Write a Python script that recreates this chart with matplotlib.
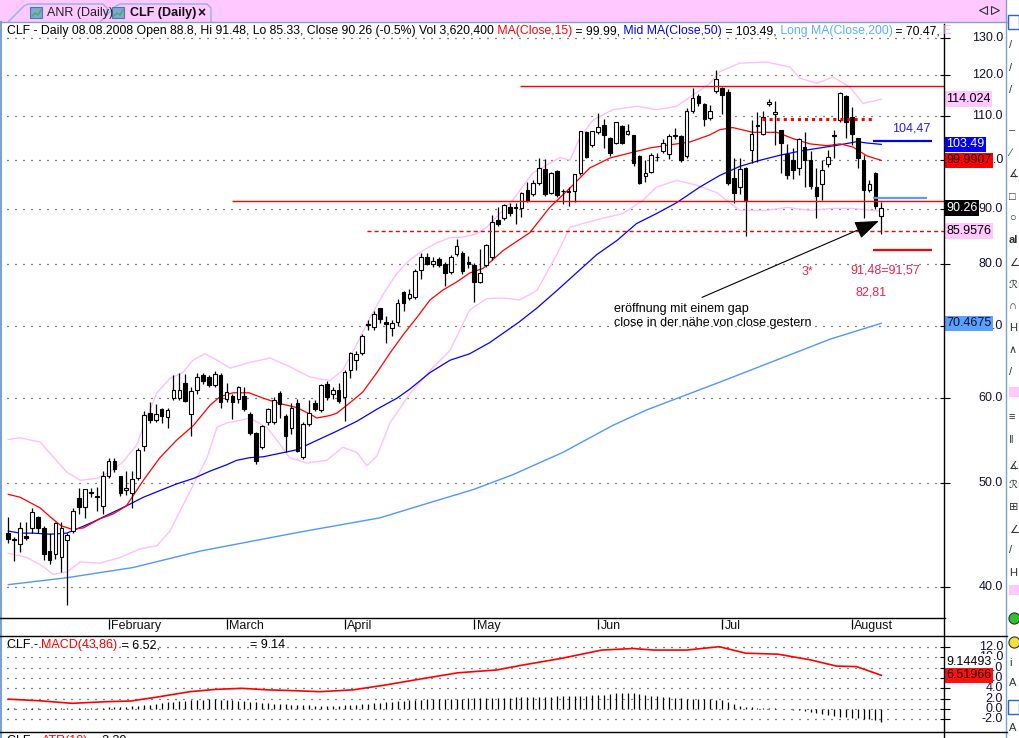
import numpy as np
import matplotlib
matplotlib.use('Agg')
import matplotlib.pyplot as plt
import matplotlib.transforms as mtransforms
from matplotlib.patches import Rectangle, Polygon
from matplotlib.lines import Line2D
from matplotlib.ticker import NullLocator

plt.rcParams['font.family'] = ['Liberation Sans', 'DejaVu Sans']
plt.rcParams['lines.scale_dashes'] = False

# CLF daily, 2008 (bar index 0 = first visible January bar)
opens = [44.9, 44.3, 43.9, 44.6, 45.4, 46.5, 45.4, 43.2, 42.9, 42.7,
         44.2, 45.1, 48.4, 47.5, 48.9, 48.6, 47.6, 50.8, 52.4, 50.7,
         49.3, 48.9, 50.6, 54.1, 58.1, 57.2, 58.6, 57.6, 60.0, 60.0,
         62.0, 58.0, 61.0, 63.1, 62.8, 61.7, 63.1, 59.9, 60.3, 59.9,
         60.2, 58.0, 55.7, 54.0, 57.0, 57.0, 60.6, 57.7, 56.3, 59.3,
         52.9, 56.8, 59.3, 58.5, 61.9, 60.5, 61.0, 60.2, 63.7, 65.1,
         66.1, 70.2, 69.9, 72.8, 70.6, 69.7, 70.6, 75.4, 74.4, 74.5,
         79.1, 81.3, 80.1, 80.8, 80.1, 78.6, 81.7, 82.0, 80.3, 79.8,
         77.0, 79.8, 81.2, 87.9, 88.3, 90.4, 90.2, 90.2, 93.8, 93.0,
         95.2, 98.2, 93.2, 97.8, 93.6, 93.6, 93.6, 97.4, 106.2, 103.3,
         106.2, 107.9, 105.0, 103.9, 107.7, 105.9, 105.5, 100.9, 96.6, 97.6,
         100.7, 102.0, 101.4, 105.4, 105.3, 100.9, 111.2, 114.7, 112.8, 109.5,
         116.0, 116.7, 115.7, 96.2, 94.4, 98.4, 102.2, 107.8, 105.9, 112.8,
         110.4, 106.6, 101.3, 100.0, 98.4, 102.9, 100.0, 94.4, 95.0, 99.2,
         105.6, 109.0, 114.7, 109.8, 104.8, 100.0, 93.8, 97.4, 88.8]
highs = [46.5, 44.5, 46.0, 46.0, 47.4, 46.6, 45.6, 44.9, 46.0, 46.0,
         44.9, 47.4, 49.5, 49.4, 49.5, 49.6, 51.3, 52.8, 52.8, 50.8,
         51.3, 51.3, 53.9, 58.4, 59.5, 59.2, 58.8, 58.8, 63.0, 63.3,
         63.2, 61.4, 63.4, 63.3, 63.0, 63.6, 63.3, 62.0, 60.5, 61.6,
         61.5, 58.2, 55.8, 56.6, 58.8, 60.2, 60.9, 58.0, 59.4, 59.9,
         57.0, 59.8, 59.8, 61.9, 62.3, 61.4, 62.0, 63.7, 66.2, 66.4,
         68.9, 71.0, 72.4, 72.9, 71.6, 71.0, 74.2, 75.5, 75.9, 79.2,
         82.0, 81.9, 81.3, 81.3, 80.3, 81.6, 84.4, 82.3, 81.5, 80.2,
         82.6, 83.6, 89.0, 90.4, 91.0, 91.2, 91.3, 93.5, 95.4, 95.9,
         100.4, 100.2, 97.6, 98.0, 94.0, 94.5, 97.2, 106.6, 106.4, 106.6,
         110.8, 109.4, 105.2, 108.6, 108.0, 108.2, 105.7, 101.2, 100.0, 101.5,
         101.6, 104.6, 105.9, 107.1, 105.5, 111.9, 116.9, 115.2, 113.0, 112.6,
         121.3, 117.0, 116.5, 100.6, 100.6, 98.6, 109.0, 110.9, 111.2, 114.0,
         113.7, 106.8, 103.5, 102.6, 105.0, 106.2, 102.0, 98.4, 100.0, 102.2,
         106.7, 115.8, 115.0, 112.2, 105.0, 101.1, 95.8, 97.5, 91.48]
lows = [44.0, 42.3, 43.1, 44.2, 44.9, 44.9, 42.4, 42.0, 42.5, 41.3,
        38.5, 44.9, 46.8, 46.4, 48.5, 47.1, 46.8, 50.6, 51.2, 48.6,
        48.7, 47.4, 50.3, 53.6, 56.9, 57.0, 56.9, 56.3, 59.8, 59.8,
        59.5, 55.3, 60.6, 61.8, 61.4, 61.5, 58.8, 59.5, 57.4, 59.4,
        58.4, 55.4, 52.1, 53.8, 56.6, 56.8, 57.5, 53.4, 55.6, 53.4,
        52.7, 56.5, 58.4, 58.3, 59.8, 59.9, 59.4, 57.1, 62.6, 63.8,
        65.9, 69.4, 69.4, 70.5, 67.6, 68.5, 70.0, 72.3, 74.1, 74.3,
        77.5, 79.8, 79.6, 79.5, 76.3, 78.3, 81.4, 78.4, 79.3, 73.8,
        76.8, 79.5, 80.8, 86.9, 88.0, 88.8, 87.2, 88.6, 91.5, 92.6,
        94.9, 92.7, 93.0, 92.5, 91.0, 90.6, 91.5, 97.0, 100.5, 103.0,
        105.8, 102.7, 101.0, 103.5, 103.5, 105.5, 98.8, 95.0, 95.4, 97.3,
        99.8, 101.6, 100.3, 104.8, 99.7, 100.5, 110.8, 112.5, 107.6, 109.0,
        115.6, 110.5, 94.8, 91.2, 93.0, 85.0, 99.4, 99.6, 105.5, 112.5,
        103.3, 97.4, 96.0, 96.0, 97.0, 94.4, 94.0, 88.3, 91.8, 98.5,
        100.6, 108.5, 105.0, 103.4, 98.3, 88.3, 93.5, 90.0, 85.33]
closes = [44.3, 44.2, 45.4, 44.4, 47.0, 45.4, 42.9, 42.4, 45.9, 45.4,
          44.7, 47.1, 47.5, 49.3, 49.0, 48.5, 50.7, 52.4, 51.5, 48.9,
          49.4, 50.4, 53.7, 57.8, 57.2, 58.0, 57.7, 58.5, 61.0, 61.0,
          59.6, 60.9, 62.8, 62.2, 61.7, 63.2, 59.5, 60.8, 59.5, 61.4,
          58.6, 55.7, 52.4, 56.5, 58.6, 59.7, 59.3, 55.3, 58.7, 53.6,
          56.8, 58.1, 58.6, 61.7, 60.2, 61.0, 59.6, 63.5, 66.1, 66.0,
          68.5, 70.4, 71.8, 71.1, 70.4, 70.5, 73.6, 73.6, 75.1, 78.8,
          81.3, 80.1, 80.5, 79.8, 78.5, 81.3, 83.1, 78.8, 80.1, 77.0,
          78.5, 83.3, 87.5, 87.2, 90.8, 89.4, 90.4, 93.2, 91.8, 95.2,
          98.4, 93.0, 97.4, 92.8, 93.7, 93.5, 97.0, 106.4, 100.7, 106.4,
          107.4, 105.5, 101.5, 108.5, 103.9, 106.4, 99.4, 95.2, 97.2, 101.2,
          100.8, 103.7, 105.3, 105.6, 100.0, 111.2, 114.2, 113.0, 109.4, 111.2,
          119.0, 115.0, 95.2, 93.2, 98.1, 91.8, 105.7, 107.6, 109.8, 113.4,
          110.9, 103.7, 96.8, 97.9, 104.6, 100.0, 94.6, 92.6, 97.9, 100.6,
          105.3, 115.5, 108.5, 105.9, 100.6, 93.8, 95.0, 90.7, 90.26]

# moving averages / bands at sample bars
ma15_x = [0, 2, 5.4, 7.1, 9, 10.7, 12.7, 15.5, 17.8, 20, 22.9, 25.7, 28.5, 31.4, 34.2, 35.9,
          38.1, 40.8, 43.2, 46.1, 48.9, 51.1, 52.3, 54.5, 55.7, 57.9, 60.1, 62.5, 64.7, 66.9,
          69.3, 71.5, 73.7, 76, 78.2, 80.5, 83.9, 88.4, 91.8, 95.2, 98.6, 102, 105.4, 108.8,
          112.2, 115.5, 118.9, 120.6, 122.8, 126.2, 130.3, 133, 135.9, 138.8, 141, 143.2, 145.5, 148]
ma15_v = [48.8, 48.5, 47.4, 46.5, 45.6, 45.3, 45.4, 46.3, 46.8, 47.6, 50.3, 52.8, 54.8, 56.6, 59.1, 60.2,
          60.7, 60.7, 60.0, 59.3, 58.8, 58.0, 57.5, 57.8, 58.1, 59.4, 60.8, 63.4, 66.1, 68.7,
          71.4, 74.1, 75.7, 77.0, 78.5, 79.3, 82.4, 85.6, 90.4, 94.2, 98.4, 100.5, 101.6, 102.7,
          103.4, 104.0, 105.6, 106.8, 107.3, 106.2, 106.2, 104.8, 103.6, 103.2, 103.6, 102.9, 101.0, 99.99]
ma50_x = [0, 2, 4.2, 7.1, 9.9, 11.6, 14.4, 17.2, 20, 22.9, 25.7, 28.5, 31.4, 34.2, 37, 38.7, 40.9,
          43.2, 48.9, 52.3, 55.7, 59.1, 62.5, 65.9, 68.1, 71.5, 74.9, 78.2, 81.6, 86.5, 89.6, 93,
          96.4, 99.8, 103.2, 106.5, 109.9, 113.3, 117.2, 120.6, 124, 127.4, 130.8, 134.2, 137.6,
          141, 143.9, 145.5, 148]
ma50_v = [45.1, 44.9, 44.9, 44.8, 44.9, 45.3, 46.0, 46.8, 47.6, 48.5, 49.2, 49.9, 50.5, 51.3, 52.0, 52.5, 52.8,
          52.9, 53.7, 54.8, 55.9, 57.1, 58.6, 60.0, 61.2, 63.4, 65.1, 66.0, 67.6, 70.6, 72.8, 75.6,
          78.6, 81.7, 84.2, 87.3, 89.2, 91.3, 94.4, 96.8, 98.7, 100.0, 101.1, 102.0, 102.7,
          103.4, 104.1, 103.8, 103.49]
ma200_x = [0, 9.9, 21.1, 32.5, 41, 49.4, 63, 71.5, 78.8, 85.5, 94, 102.5, 108.2, 113.8, 120.6, 130.8, 139.3, 148]
ma200_v = [40.2, 40.8, 41.7, 43.2, 44.1, 45.0, 46.4, 47.95, 49.3, 50.9, 53.4, 56.6, 58.5, 60.1, 62.1, 65.3, 68.1, 70.47]
bb_up_x = [0, 2, 5.4, 7.6, 9.9, 12.2, 15, 17.2, 19.4, 21.8, 23.5, 25.2, 27.4, 29.6, 31.3, 33.3, 35.4,
           37.6, 41, 44.4, 47.7, 51.1, 54.5, 56.7, 59.1, 61.3, 63.5, 65.9, 68.1, 70.3, 72.7, 74.9,
           77.1, 79.4, 81.1, 85.5, 88.9, 93.5, 95.2, 96.9, 99.1, 102.5, 106.6, 109.9, 113.3, 116.7,
           118.9, 120.6, 124, 128.6, 132.5, 134.2, 137.1, 139.8, 142.7, 144.9, 148]
bb_up_v = [54.9, 55.1, 54.6, 52.9, 51.2, 50.3, 50.5, 51.2, 52.3, 54.3, 57.6, 60.7, 62.6, 63.4, 65.1, 66.0, 65.1,
           64.0, 64.8, 65.4, 64.2, 62.8, 62.3, 63.7, 67.4, 71.3, 74.9, 78.5, 80.8, 82.4, 83.8, 84.7,
           84.8, 85.4, 86.6, 91.8, 97.3, 100.6, 100.0, 105.0, 109.0, 111.5, 112.3, 111.5, 112.3, 115.7,
           117.9, 121.0, 123.2, 123.5, 122.2, 119.3, 118.0, 119.6, 117.0, 113.0, 114.02]
bb_lo_x = [0, 3.2, 5.9, 7.6, 9.9, 12.2, 15.5, 18.9, 22.3, 25.2, 27.4, 30.3, 33.7, 35.4, 37.1, 39.3, 41,
           43.9, 46.1, 47.7, 50.6, 54, 56.7, 59.1, 60.8, 62.5, 64.7, 68.1, 71.5, 74.9, 78.2, 81.1,
           83.9, 86.7, 89.6, 93, 95.2, 97.4, 100.8, 104.2, 107.6, 109.9, 113.3, 116.7, 120.1, 124,
           128.6, 132, 135.9, 139.8, 143.2, 148]
bb_lo_v = [43.0, 42.6, 41.8, 41.1, 41.3, 42.2, 42.1, 42.6, 43.4, 43.7, 45.1, 48.5, 52.8, 56.4, 56.9, 57.2, 57.5,
           56.3, 54.3, 52.8, 52.2, 52.5, 54.0, 53.4, 51.9, 53.0, 56.9, 60.6, 63.7, 66.5, 72.5, 74.3,
           74.4, 74.1, 75.6, 81.7, 86.6, 87.3, 88.3, 89.2, 91.8, 94.4, 95.8, 94.8, 93.3, 89.8,
           89.8, 90.4, 89.8, 90.2, 90.2, 89.6]

# MACD(43,86)
macd_x = [0, 5.2, 10.8, 16.4, 20.8, 25.2, 30.8, 35.2, 39.6, 44, 48.4, 52.8, 58.4, 64, 69.6, 76.2,
          82.8, 87.2, 93.8, 100.6, 106, 109.4, 115, 120.5, 125, 130.5, 136, 140.4, 143.8, 148]
macd_v = [1.9, 1.6, 1.1, 1.4, 1.55, 2.3, 3.35, 3.8, 4.0, 3.7, 3.55, 3.35, 3.7, 4.65, 5.75, 7.0,
          7.55, 8.5, 9.8, 11.4, 11.7, 11.4, 11.4, 12.05, 10.8, 10.6, 9.5, 8.3, 8.2, 6.52]
macd_hist = [0.1, 0.1, 0.05, 0.1, 0.15, 0.1, 0.05, 0.1, 0.1, 0.15, 0.1, 0.05, 0.1, 0.15, 0.2, 0.2,
             0.25, 0.3, 0.35, 0.4, 0.45, 0.5, 0.6,
             0.7, 0.85, 1.0, 1.15, 1.3, 1.4, 1.5, 1.6,
             1.7, 1.75, 1.8, 1.85, 1.85, 1.8, 1.75, 1.7, 1.6, 1.5,
             1.4, 1.3, 1.2, 1.1, 1.0, 0.95, 0.9, 0.85, 0.8, 0.75,
             0.7, 0.65, 0.6, 0.6, 0.6, 0.65, 0.7, 0.75,
             0.8, 0.9, 1.0, 1.1, 1.2, 1.3, 1.4, 1.5, 1.6, 1.7, 1.75, 1.8,
             1.85, 1.9, 1.9, 1.95, 2.0, 2.0, 2.0, 2.05, 2.1, 2.1, 2.1, 2.15, 2.2, 2.2, 2.2, 2.25, 2.3, 2.3, 2.3, 2.35,
             2.4, 2.4, 2.45, 2.5, 2.5, 2.55, 2.6, 2.6, 2.7, 2.75,
             2.8, 2.9, 3.0, 3.1, 3.1, 3.0, 2.9, 2.8,
             2.6, 2.5, 2.4, 2.3, 2.2, 2.1, 2.0, 2.0, 1.9, 1.9, 1.85, 1.8, 1.8,
             1.4, 1.0, 0.6, 0.4, 0.3,
             0.2, 0.15, 0.1, 0.1, 0.05, 0.0, -0.1,
             -0.2, -0.4, -0.6, -0.8, -1.0, -1.2, -1.4,
             -1.5, -1.6, -1.7, -1.8, -1.9, -2.0, -2.2, -2.5]

months = ['February', 'March', 'April', 'May', 'Jun', 'Jul', 'August']
month_start = [17, 37, 57, 79, 100, 121, 143]
price_ticks = [40, 50, 60, 70, 80, 90, 100, 110, 120, 130]
macd_ticks = [-2, 0, 2, 4, 6, 8, 10, 12]

# drawn levels on the chart
res_top = 117.2
res_mid = 91.57
sup_dash = 85.96
dot_level = 109.2
target_blue = 104.3
level_light = 92.2
level_red = 82.4

RED = '#FF0000'
BLUE = '#0000FF'
LBLUE = '#4F98FF'
PINK = '#FFBEFF'
TXTRED = '#F0224A'
FS = 9

W, H = 1020, 738
fig = plt.figure(figsize=(W / 100, H / 100), dpi=100)
PX = mtransforms.Affine2D().scale(1 / W, -1 / H).translate(0, 1) + fig.transFigure


def axes_px(x0, y0, x1, y1):
    a = fig.add_axes([x0 / W, 1 - y1 / H, (x1 - x0) / W, (y1 - y0) / H])
    for s in a.spines.values():
        s.set_visible(False)
    a.set_xticks([])
    a.patch.set_alpha(0)
    return a


ax = axes_px(5, 22, 945, 618)
axm = axes_px(5, 618, 945, 636)
axd = axes_px(5, 636, 945, 732)
XLIM = (-0.56, 158.8)
for a in (ax, axm, axd):
    a.set_xlim(*XLIM)

# ---- window chrome ----
fig.patches.append(Rectangle((0, 0), 1007, 22, transform=PX, fc='#FFC9FF', ec='none', zorder=0))
fig.lines.append(Line2D([0, 1007], [21.5, 21.5], transform=PX, color='#7DA2CE', lw=1))
fig.lines.append(Line2D([1.5, 1.5], [22, 738], transform=PX, color='#7DA2CE', lw=1.5))
fig.lines.append(Line2D([1006.5, 1006.5], [0, 738], transform=PX, color='#7DA2CE', lw=1))
fig.patches.append(Polygon([(8, 22), (24, 6), (28, 4), (103, 4), (107, 8), (107, 22)], closed=False,
                           transform=PX, fc='#FFC9FF', ec='#8CB4E6', lw=1))
fig.patches.append(Polygon([(100, 22), (116, 6), (120, 4), (207, 4), (211, 8), (211, 22)], closed=False,
                           transform=PX, fc='#FFC9FF', ec='#8CB4E6', lw=1))
for ix in (30, 112):
    fig.patches.append(Rectangle((ix, 7), 12, 11, transform=PX, fc='#7FA8D8', ec='#4A78B0', lw=0.8))
    fig.lines.append(Line2D([ix + 2, ix + 5, ix + 8, ix + 11], [16, 13, 15, 10], transform=PX,
                            color='#3CB44A', lw=1))
fig.text(47 / W, 1 - 13 / H, 'ANR (Daily)', fontsize=FS, color='#202020', va='center')
fig.text(130 / W, 1 - 13 / H, 'CLF (Daily)', fontsize=FS, color='#101010', va='center', weight='bold')
fig.text(197 / W, 1 - 13 / H, '×', fontsize=10, color='#101010', va='center', weight='bold')
fig.lines.append(Line2D([983], [10], transform=PX, marker='<', ms=6, mfc='none', mec='#333333', mew=0.8))
fig.lines.append(Line2D([995], [10], transform=PX, marker='>', ms=6, mfc='none', mec='#333333', mew=0.8))

# toolbar on the right
tool_icons = [(45, '/'), (68, '/'), (90, '/'), (130, '–'), (153, '∕'), (173, '∡'), (197, '□'),
              (218, '○'), (240, 'al'), (263, '∠'), (285, 'ℛ'), (306, '∩'), (328, 'H'), (350, '∧'),
              (372, '/'), (417, '≡'), (440, '‖'), (465, '∡'), (485, 'ℛ'), (507, '⊞'), (530, '∠'),
              (550, '/'), (573, 'H'), (663, 'i'), (683, 'A'), (728, 'A')]
for ty, g in tool_icons:
    fig.text(1009 / W, 1 - ty / H, g, fontsize=8, color='#303030', va='center', ha='left',
             weight='bold' if g == 'al' else 'normal')
for ty in (392, 590):
    fig.patches.append(Rectangle((1009, ty - 5), 10, 10, transform=PX, fc='#FFC9FF', ec='none'))
fig.lines.append(Line2D([1014], [618], transform=PX, marker='o', ms=8, mfc='#30C030', mec='#303030', mew=0.8))
fig.lines.append(Line2D([1014], [642], transform=PX, marker='o', ms=8, mfc='#F0E040', mec='#303030', mew=0.8))
fig.patches.append(Rectangle((1008, 700), 11, 14, transform=PX, fc='white', ec='#3060D0', lw=1))
fig.patches.append(Rectangle((1008, 15), 11, 14, transform=PX, fc='white', ec='#3060D0', lw=1))

# panel frame lines
fig.lines.append(Line2D([944.5, 944.5], [24, 738], transform=PX, color='black', lw=1))
fig.lines.append(Line2D([0, 945], [618, 618], transform=PX, color='black', lw=1))
fig.lines.append(Line2D([0, 1007], [636, 636], transform=PX, color='black', lw=1))
fig.lines.append(Line2D([0, 1007], [732, 732], transform=PX, color='black', lw=1))

# ---- price panel ----
ax.set_yscale('log')
ax.set_ylim(37.42, 134.6)
ax.set_yticks(price_ticks)
ax.yaxis.set_minor_locator(NullLocator())
ax.tick_params(axis='y', which='both', left=False, right=True, labelleft=False, labelright=False,
               direction='inout', length=7, width=0.8)
YT = ax.get_yaxis_transform()
DOTS = (0, (0.72, 5.04))
for v in price_ticks:
    ax.axhline(v, xmin=0.002, xmax=0.995, color='black', lw=0.9, linestyle=DOTS, zorder=1)
    ax.text(1.0617, v, f'{v:.1f}', transform=YT, ha='right', va='center', fontsize=FS,
            color='#101030', clip_on=False, zorder=6)

xs = np.arange(len(closes))
o = np.array(opens)
c = np.array(closes)
ax.plot(bb_up_x, bb_up_v, color=PINK, lw=1, zorder=1.5)
ax.plot(bb_lo_x, bb_lo_v, color=PINK, lw=1, zorder=1.5)
ax.plot(ma200_x, ma200_v, color=LBLUE, lw=1, zorder=2)
ax.plot(ma50_x, ma50_v, color=BLUE, lw=0.9, zorder=2)
ax.plot(ma15_x, ma15_v, color=RED, lw=0.9, zorder=2)
ax.vlines(xs, lows, highs, color='black', lw=0.9, zorder=3)
ax.bar(xs, np.abs(c - o) + 0.02, bottom=np.minimum(o, c), width=0.62,
       color=np.where(c >= o, 'white', 'black'), edgecolor='black', linewidth=0.8, zorder=4)

# drawn levels
ax.hlines(res_top, 86.8, XLIM[1], color=RED, lw=1, zorder=5)
ax.hlines(res_mid, 37.9, XLIM[1], color=RED, lw=1, zorder=5)
ax.hlines(sup_dash, 60.8, XLIM[1], color=RED, lw=1, linestyles=[(0, (2.9, 2.2))], zorder=5)
ax.hlines(dot_level, 127.7, 146.4, color=RED, lw=2.2, linestyles=[(0, (2.2, 2.9))], zorder=5)
ax.hlines(target_blue, 146.6, 156.6, color=BLUE, lw=1.6, zorder=5)
ax.hlines(level_light, 146.6, 155.7, color='#5A9BFF', lw=1.6, zorder=5)
ax.hlines(level_red, 146.6, 156.6, color=RED, lw=1.6, zorder=5)

ax.text(149.8, 107.0, '104,47', color='#2020F0', fontsize=FS, va='center', zorder=6)
ax.text(134.5, 78.6, '3*', color=TXTRED, fontsize=FS, va='center', zorder=6)
ax.text(142.7, 78.9, '91,48=91,57', color=TXTRED, fontsize=FS, va='center', zorder=6)
ax.text(143.7, 75.3, '82,81', color=TXTRED, fontsize=FS, va='center', zorder=6)
ax.text(102.7, 72.6, 'eröffnung mit einem gap', color='black', fontsize=FS, va='center', zorder=6)
ax.text(102.7, 70.5, 'close in der nähe von close gestern', color='black', fontsize=FS, va='center', zorder=6)
ax.annotate('', xy=(147.6, 87.8), xytext=(117.6, 74.5),
            arrowprops=dict(arrowstyle='-|>,head_length=0.75,head_width=0.28', color='black',
                            lw=0.8, mutation_scale=20, shrinkA=0, shrinkB=0), zorder=6)

# value labels on the price scale
for val, s, fc, tc in [(114.024, '114.024', '#FFC8FF', 'black'), (103.49, '103.49', '#0000FF', 'white'),
                       (99.9907, '99.9907', '#FF0000', '#200000'), (90.26, '90.26', 'black', 'white'),
                       (85.9576, '85.9576', '#FFC8FF', 'black'), (70.4675, '70.4675', '#5AA0FF', '#101020')]:
    ax.text(1.0012, val, s, transform=YT, ha='left', va='center', fontsize=FS, color=tc, clip_on=False,
            zorder=10, bbox=dict(boxstyle='square,pad=0.14', fc=fc, ec='none'))

# header line with coloured segments
renderer = fig.canvas.get_renderer()
title_parts = [('CLF - Daily 08.08.2008 Open 88.8, Hi 91.48, Lo 85.33, Close 90.26 (-0.5%) Vol 3,620,400', 'black'),
               (' MA(Close,15)', RED), (' = 99.99,', 'black'), (' Mid MA(Close,50)', BLUE),
               (' = 103.49,', 'black'), (' Long MA(Close,200)', '#5AAEFF'), (' = 70.47,', 'black'),
               (' E', '#FFB0FF')]


def chain(x_px, y_px, parts, size=FS):
    x = x_px
    for s, col in parts:
        t = fig.text(x / W, 1 - y_px / H, s, color=col, fontsize=size, va='center', ha='left')
        bb = t.get_window_extent(renderer=renderer)
        x = bb.x1


chain(7, 31, title_parts, size=8.8)

# ---- month row ----
axm.set_ylim(0, 1)
axm.set_yticks([])
MT = axm.get_xaxis_transform()
for m, i in zip(months, month_start):
    axm.vlines(i, 0.39, 0.95, transform=MT, color='black', lw=0.9)
    axm.text(i + 0.45, 0.56, m, transform=MT, fontsize=FS, va='center', ha='left', color='#101010')

# ---- MACD panel ----
axd.set_ylim(-4.45, 14.12)
axd.set_yticks(macd_ticks)
axd.tick_params(axis='y', left=False, right=True, labelleft=False, labelright=False,
                direction='inout', length=7, width=0.8)
DT = axd.get_yaxis_transform()
for v in macd_ticks:
    axd.axhline(v, xmin=0.002, xmax=0.995, color='black', lw=0.9, linestyle=DOTS, zorder=1)
    axd.text(1.0617, v, f'{v:.1f}', transform=DT, ha='right', va='center', fontsize=FS,
             color='#101030', clip_on=False, zorder=6)
axd.vlines(xs, 0, macd_hist, color='black', lw=0.9, zorder=2)
axd.plot(macd_x, macd_v, color=RED, lw=1.2, zorder=3)
axd.text(1.0012, 9.14493, '9.14493', transform=DT, ha='left', va='center', fontsize=FS, color='black',
         clip_on=False, zorder=10, bbox=dict(boxstyle='square,pad=0.1', fc='white', ec='none'))
axd.text(1.0012, 6.51966, '6.51966', transform=DT, ha='left', va='center', fontsize=FS, color='#200000',
         clip_on=False, zorder=10, bbox=dict(boxstyle='square,pad=0.14', fc='#FF1010', ec='none'))
chain(7, 645, [('CLF - ', 'black'), ('MACD(43,86)', RED), (' = 6.52,', 'black')])
fig.text(250 / W, 1 - 645 / H, '= 9.14', fontsize=FS, color='black', va='center')

# next panel, mostly cut off
chain(7, 741, [('CLF - ', 'black'), ('ATR(10)', RED), (' = 3.30', 'black')])

fig.savefig('out.png', dpi=100)
